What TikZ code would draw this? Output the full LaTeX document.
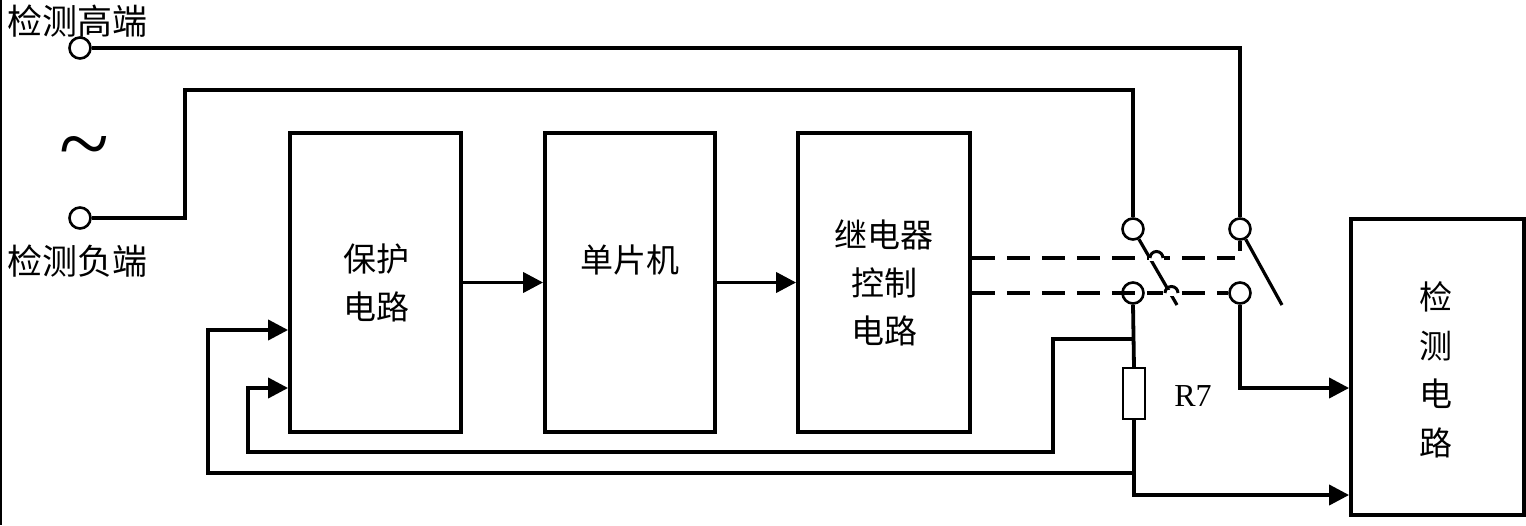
\documentclass[tikz,border=0pt]{standalone}
\usepackage{fontspec}
\setmainfont{Liberation Serif}
\newfontfamily\cjk{Noto Sans CJK SC}
\usetikzlibrary{arrows.meta}
\tikzset{
  wire/.style={line width=3.8pt, line join=miter},
  arr/.style={wire, -{Triangle[length=20pt,width=20pt]}},
  blk/.style={draw, line width=3.8pt, rectangle, inner sep=0pt},
  term/.style={draw, circle, line width=2.6pt, minimum size=21pt, inner sep=0pt},
  res/.style={draw, rectangle, line width=1.4pt, minimum width=22pt, minimum height=51pt, inner sep=0pt},
  ctext/.style={font=\fontsize{33pt}{48pt}\selectfont\cjk, align=center, inner sep=0pt},
  lbl/.style={font=\fontsize{35pt}{40pt}\selectfont\cjk, inner sep=0pt},
  dsh/.style={wire, dash pattern=on 23pt off 12pt},
}
\begin{document}
\begin{tikzpicture}[x=1pt,y=-1pt]
\useasboundingbox (0,0) rectangle (1526,525);
\fill[white] (0,0) rectangle (1526,525);
\draw[line width=1.5pt] (0.75,0) -- (0.75,525);

% blocks
\node[blk, minimum width=171pt, minimum height=299pt] (b1) at (375.5,282.5) {};
\node[blk, minimum width=170pt, minimum height=299pt] (b2) at (630,282.5) {};
\node[blk, minimum width=172pt, minimum height=299pt] (b3) at (884,282.5) {};
\node[blk, minimum width=173pt, minimum height=296pt] (b4) at (1437.5,367) {};

\node[ctext] (t1) at (376,282.5) {保护\\电路};
\node[ctext] (t2) at (630,260) {单片机};
\node[ctext] (t3) at (884,282.5) {继电器\\控制\\电路};
\node[ctext, font=\fontsize{33pt}{48.5pt}\selectfont\cjk] (t4) at (1436,370) {检\\测\\电\\路};

% terminals
\node[term] (hi) at (80,48) {};
\node[term] (lo) at (80,218) {};
\node[lbl] (lhi) at (78,21) {检测高端};
\node[lbl] (llo) at (78,261) {检测负端};
\node[inner sep=0pt, font=\fontsize{92pt}{92pt}\selectfont] (ac) at (84,155) {\char`\~};

% switch contacts
\node[term] (s1t) at (1133,229) {};
\node[term] (s1b) at (1133,293) {};
\node[term] (s2t) at (1240,229) {};
\node[term] (s2b) at (1240,293) {};
\coordinate (k1) at (1177,305);
\coordinate (k2) at (1282,305);
\draw[line width=3.2pt] (s1t) -- (k1);
\draw[line width=3.2pt] (s2t) -- (k2);
\draw[line width=3.2pt] (s2t.south) -- ++(0,10);

% supply lines
\draw[wire] (hi.east) -| (s2t.north);
\draw[wire] (lo.east) -- (185,218) -- (185,90) -| (s1t.north);

% arrows between blocks
\draw[arr] (b1.east) -- (b2.west);
\draw[arr] (b2.east) -- (b3.west);

% dashed mechanical links
\coordinate (d1) at (1235,258);
\draw[dsh] (b3.east |- d1) -- (d1);
\draw[dsh] (b3.east |- s1b) -- (s1b.center) -- (s2b.west);
% jumps over the blade
\draw[white, line width=5.5pt] (1149,258) -- (1164,258);
\draw[line width=3pt] (1150,258) arc (180:0:6.5pt);
\draw[white, line width=5.5pt] (1163,293) -- (1178,293);
\draw[line width=3pt] (1165,293) arc (180:0:6.5pt);

% resistor branch
\node[res] (r7) at (1134,393.5) {};
\node[inner sep=0pt, font=\fontsize{32pt}{36pt}\selectfont] (r7l) at (1193,396) {R7};
\coordinate (j1) at (1133,339);
\coordinate (j2) at (1133,473);
\draw[wire] (s1b.south) -- (r7.north);
\draw[arr] (r7.south) |- (b4.west |- 0,495);
\draw[arr] (j1) -| (1053,452) -| (248,388) -- (b1.west |- 0,388);
\draw[arr] (j2) -| (208,330) -- (b1.west |- 0,330);
\draw[arr] (s2b.south) |- (b4.west |- 0,388);
\end{tikzpicture}
\end{document}
